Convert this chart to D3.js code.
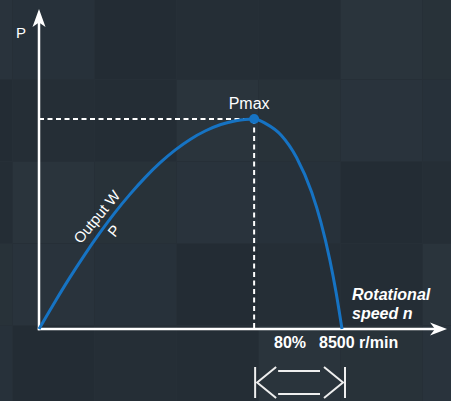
<!DOCTYPE html>
<html>
<head>
<meta charset="utf-8">
<script src="https://cdn.jsdelivr.net/npm/d3@7"></script>
<style>
  html, body { margin: 0; padding: 0; background: #262f37; }
  svg { display: block; font-family: "Liberation Sans", Arial, sans-serif; }
</style>
</head>
<body>
<svg id="chart" width="451" height="401"></svg>
<script>
// speed in % of 8500 r/min, output power relative to Pmax
const speed = [0, 5, 10, 15, 20, 25, 30, 35, 40, 45, 50, 55, 60, 65, 68, 71, 75, 80, 85, 90, 93, 96, 98, 100]
const power = [0, 0.123, 0.241, 0.352, 0.456, 0.553, 0.641, 0.721, 0.792, 0.853, 0.904, 0.944, 0.974, 0.992, 0.998, 1,
  0.977, 0.922, 0.817, 0.651, 0.51, 0.328, 0.178, 0]
const peakSpeed = 71
const speedLabels = ['80%', '8500 r/min']

const origin = { x: 39, y: 329 }
const blue = '#1673c3'

const svg = d3.select('#chart')

// textured tiles in the background
const tileShades = ['#27313a', '#242d35', '#29333c', '#252e36', '#283239', '#232c34', '#2a343c']
const tile = 82
const tiles = []
for (let r = 0; r < 6; r++) {
  for (let c = -1; c < 6; c++) {
    tiles.push({ x: 13 + c * tile, y: -2 + r * tile, k: (r * 3 + c * 5 + 7) % tileShades.length })
  }
}
svg.append('g').selectAll('rect')
  .data(tiles)
  .enter()
  .append('rect')
  .attr('x', d => d.x)
  .attr('y', d => d.y)
  .attr('width', tile - 1)
  .attr('height', tile - 1)
  .attr('fill', d => tileShades[d.k])

const x = d3.scaleLinear()
  .domain([0, 100])
  .range([origin.x, 342])

const y = d3.scaleLinear()
  .domain([0, 1])
  .range([origin.y, 119])

const data = speed.map((s, i) => ({ s, p: power[i] }))

// dashed guides to the peak
const guide = svg.append('g')
  .attr('stroke', '#fff')
  .attr('stroke-width', 2)
  .attr('stroke-dasharray', '5,3.5')
guide.append('line')
  .attr('x1', x(0)).attr('x2', x(peakSpeed))
  .attr('y1', y(1)).attr('y2', y(1))
guide.append('line')
  .attr('x1', x(peakSpeed)).attr('x2', x(peakSpeed))
  .attr('y1', y(1)).attr('y2', y(0))

// axes with arrow heads
const axes = svg.append('g').attr('stroke', '#fff').attr('stroke-width', 2.5).attr('fill', 'none')
axes.append('line').attr('x1', origin.x).attr('y1', origin.y + 1.2).attr('x2', origin.x).attr('y2', 20)
axes.append('line').attr('x1', origin.x - 1.2).attr('y1', origin.y).attr('x2', 438).attr('y2', origin.y)
svg.append('path')
  .attr('d', `M${origin.x},9 L${origin.x + 6.5},27 L${origin.x},22.5 L${origin.x - 6.5},27 Z`)
  .attr('fill', '#fff')
svg.append('path')
  .attr('d', `M447,${origin.y} L430,${origin.y - 6.5} L435,${origin.y} L430,${origin.y + 6.5} Z`)
  .attr('fill', '#fff')

// power curve
const line = d3.line()
  .x(d => x(d.s))
  .y(d => y(d.p))
  .curve(d3.curveMonotoneX)

svg.append('path')
  .datum(data)
  .attr('d', line)
  .attr('fill', 'none')
  .attr('stroke', blue)
  .attr('stroke-width', 3)

svg.append('circle')
  .attr('cx', x(peakSpeed))
  .attr('cy', y(1))
  .attr('r', 5)
  .attr('fill', blue)

// labels
svg.append('text')
  .attr('x', 16).attr('y', 38)
  .attr('fill', '#fff')
  .attr('font-size', 15)
  .text('P')

svg.append('text')
  .attr('x', x(peakSpeed) - 5).attr('y', 109)
  .attr('text-anchor', 'middle')
  .attr('fill', '#fff')
  .attr('font-size', 16)
  .text('Pmax')

const outLabel = svg.append('text')
  .attr('transform', 'translate(97,217) rotate(-50.5)')
  .attr('text-anchor', 'middle')
  .attr('fill', '#fff')
  .attr('font-size', 15)
outLabel.append('tspan').attr('x', 0).attr('y', 5).text('Output W')
outLabel.append('tspan').attr('x', 0).attr('y', 27).text('P')

const rot = svg.append('text')
  .attr('fill', '#fff')
  .attr('font-size', 16)
  .attr('font-style', 'italic')
  .attr('font-weight', 'bold')
rot.append('tspan').attr('x', 352).attr('y', 300).text('Rotational')
rot.append('tspan').attr('x', 352).attr('y', 319).text('speed n')

svg.selectAll('.speed-label')
  .data(speedLabels)
  .enter()
  .append('text')
  .attr('class', 'speed-label')
  .attr('x', (d, i) => i === 0 ? 274 : 319)
  .attr('y', 348)
  .attr('fill', '#fff')
  .attr('font-size', 16)
  .attr('font-weight', 'bold')
  .text(d => d)

// range bracket from the peak to max speed
const bx0 = x(peakSpeed) + 1, bx1 = x(100) + 3
const by0 = 367, by1 = 398, bmid = (by0 + by1) / 2
const br = svg.append('g')
  .attr('stroke', '#eee')
  .attr('stroke-width', 2)
  .attr('fill', 'none')
br.append('line').attr('x1', bx0).attr('x2', bx0).attr('y1', by0).attr('y2', by1)
br.append('line').attr('x1', bx1).attr('x2', bx1).attr('y1', by0).attr('y2', by1)
br.append('path').attr('d', `M${bx0 + 21},${by0} L${bx0 + 2},${bmid} L${bx0 + 21},${by1}`)
br.append('path').attr('d', `M${bx1 - 21},${by0} L${bx1 - 2},${bmid} L${bx1 - 21},${by1}`)
br.append('line').attr('x1', bx0 + 23).attr('x2', bx1 - 25).attr('y1', 371).attr('y2', 371)
br.append('line').attr('x1', bx0 + 23).attr('x2', bx1 - 25).attr('y1', 394).attr('y2', 394)
</script>
</body>
</html>
